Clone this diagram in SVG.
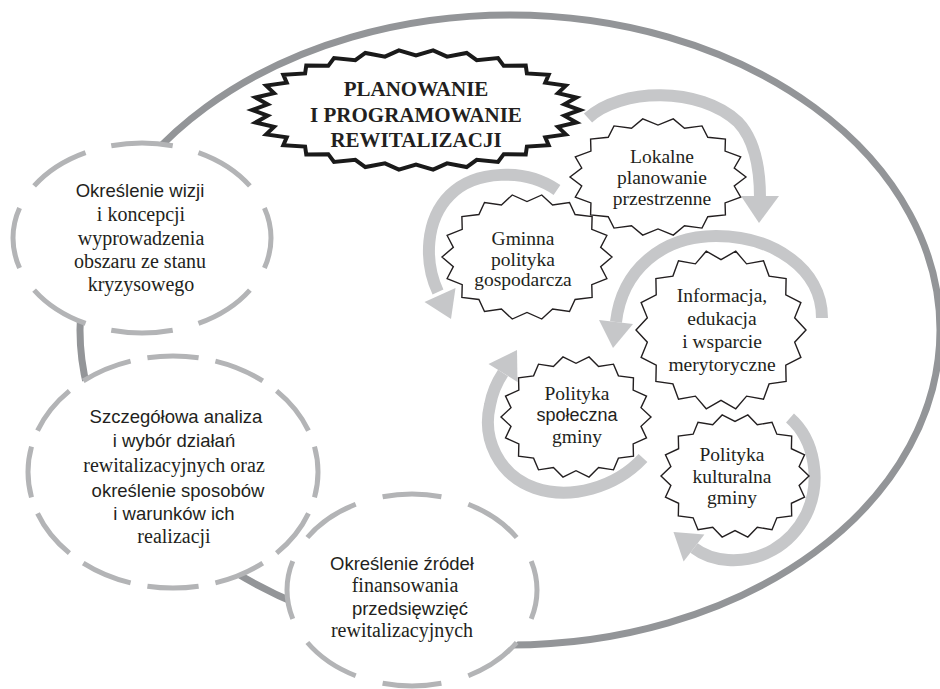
<svg xmlns="http://www.w3.org/2000/svg" xmlns:xlink="http://www.w3.org/1999/xlink" width="940" height="689" viewBox="0 0 940 689">
<style>
.outer{fill:none;stroke:#939598;stroke-width:7}
.dash{fill:#fff;stroke:#b3b4b6;stroke-width:5}
.arc{fill:none;stroke:#c6c7c9;stroke-width:12}
.head{fill:#c6c7c9}
.star{fill:#fff;stroke:#231f20;stroke-width:1.4}
.title{fill:#fff;stroke:#1a1a1a;stroke-width:4}
.serif{font-family:"Liberation Serif","Times New Roman",serif;font-size:20px;fill:#231f20;text-anchor:middle}
.sans{font-family:"Liberation Sans",Arial,sans-serif;font-size:18.5px;fill:#231f20;text-anchor:middle}
.ns{font-family:"Liberation Serif","Times New Roman",serif;font-size:19.5px;fill:#231f20;text-anchor:middle}
.nsans{font-family:"Liberation Sans",Arial,sans-serif;font-size:18px;fill:#231f20;text-anchor:middle}
.tt{font-family:"Liberation Serif","Times New Roman",serif;font-size:21px;font-weight:bold;fill:#231f20;text-anchor:middle}
</style>
<defs>
<polygon id="star18" vector-effect="non-scaling-stroke" points="100,0 86.66,15.28 93.97,34.2 76.21,44 76.6,64.28 56.57,67.41 50,86.6 30.1,82.69 17.36,98.48 0,88 -17.36,98.48 -30.1,82.69 -50,86.6 -56.57,67.41 -76.6,64.28 -76.21,44 -93.97,34.2 -86.66,15.28 -100,0 -86.66,-15.28 -93.97,-34.2 -76.21,-44 -76.6,-64.28 -56.57,-67.41 -50,-86.6 -30.1,-82.69 -17.36,-98.48 0,-88 17.36,-98.48 30.1,-82.69 50,-86.6 56.57,-67.41 76.6,-64.28 76.21,-44 93.97,-34.2 86.66,-15.28"/>
<polygon id="star30" vector-effect="non-scaling-stroke" points="100,0 90.5,9.51 97.81,20.79 86.55,28.12 91.35,40.67 78.81,45.5 80.9,58.78 67.62,60.89 66.91,74.31 53.49,73.62 50,86.6 37.01,83.13 30.9,95.11 18.92,89.01 10.45,99.45 0,91 -10.45,99.45 -18.92,89.01 -30.9,95.11 -37.01,83.13 -50,86.6 -53.49,73.62 -66.91,74.31 -67.62,60.89 -80.9,58.78 -78.81,45.5 -91.35,40.67 -86.55,28.12 -97.81,20.79 -90.5,9.51 -100,0 -90.5,-9.51 -97.81,-20.79 -86.55,-28.12 -91.35,-40.67 -78.81,-45.5 -80.9,-58.78 -67.62,-60.89 -66.91,-74.31 -53.49,-73.62 -50,-86.6 -37.01,-83.13 -30.9,-95.11 -18.92,-89.01 -10.45,-99.45 0,-91 10.45,-99.45 18.92,-89.01 30.9,-95.11 37.01,-83.13 50,-86.6 53.49,-73.62 66.91,-74.31 67.62,-60.89 80.9,-58.78 78.81,-45.5 91.35,-40.67 86.55,-28.12 97.81,-20.79 90.5,-9.51"/>
</defs>

<g id="connectors">
<ellipse class="outer" cx="510" cy="330" rx="430" ry="315"/>
</g>

<g id="circle-wizja">
<ellipse class="dash" cx="142" cy="238" rx="129" ry="95" pathLength="800" stroke-dasharray="70 30" stroke-dashoffset="35"/>
<text class="sans" x="140" y="197">Określenie wizji</text>
<text class="serif" x="141" y="221">i koncepcji</text>
<text class="serif" x="141" y="245">wyprowadzenia</text>
<text class="serif" x="140" y="268">obszaru ze stanu</text>
<text class="serif" x="141" y="291">kryzysowego</text>
</g>

<g id="circle-analiza">
<ellipse class="dash" cx="173" cy="472" rx="145" ry="116" pathLength="1200" stroke-dasharray="75 25" stroke-dashoffset="37.5"/>
<text class="sans" x="176" y="423">Szczegółowa analiza</text>
<text class="sans" x="174" y="447">i wybór działań</text>
<text class="serif" x="174" y="472">rewitalizacyjnych oraz</text>
<text class="sans" x="178" y="497">określenie sposobów</text>
<text class="sans" x="174" y="520">i warunków ich</text>
<text class="serif" x="174" y="543">realizacji</text>
</g>

<g id="circle-finansowanie">
<ellipse class="dash" cx="412" cy="590" rx="125" ry="96" pathLength="800" stroke-dasharray="68 32" stroke-dashoffset="34"/>
<text class="sans" x="402" y="570">Określenie źródeł</text>
<text class="serif" x="405" y="592">finansowania</text>
<text class="sans" x="410" y="615">przedsięwzięć</text>
<text class="serif" x="402" y="637">rewitalizacyjnych</text>
</g>

<g id="title">
<use xlink:href="#star30" class="title" transform="translate(416,110) scale(1.64,0.6)"/>
<text class="tt" x="416" y="96">PLANOWANIE</text>
<text class="tt" x="416" y="122">I PROGRAMOWANIE</text>
<text class="tt" x="416" y="147">REWITALIZACJI</text>
</g>

<g id="cycle-arrows">
<path class="arc" d="M588,118 C620,88 700,86 738,122 C755,140 760,170 760,198"/>
<polygon class="head" points="741,196 779,196 759,223"/>
<path class="arc" d="M557,190 C525,168 475,170 450,195 C425,220 424,262 438,292"/>
<polygon class="head" points="455.5,288 424.5,302 451,319"/>
<path class="arc" d="M822,318 C822,268 772,236 716,236 C662,236 622,270 616,322"/>
<polygon class="head" points="633,324 599,320 613,348"/>
<path class="arc" d="M643,458 C615,488 570,500 535,488 C498,475 482,438 490,405 C492,394 497,382 503,373"/>
<polygon class="head" points="517.5,382 488.5,364 517,350"/>
<path class="arc" d="M790,418 C815,440 822,482 806,515 C790,546 760,562 728,560 C714,559 703,555 694,548"/>
<polygon class="head" points="704.4,534.6 683.6,561.4 673.5,532"/>
</g>

<g id="node-lokalne">
<use xlink:href="#star18" class="star" transform="translate(658,177) scale(0.88,0.59)"/>
<text class="ns" x="662" y="163">Lokalne</text>
<text class="ns" x="662" y="184">planowanie</text>
<text class="ns" x="662" y="205">przestrzenne</text>
</g>

<g id="node-gminna">
<use xlink:href="#star18" class="star" transform="translate(527,257) scale(0.85,0.63)"/>
<text class="ns" x="523" y="245">Gminna</text>
<text class="ns" x="523" y="266">polityka</text>
<text class="ns" x="523" y="286">gospodarcza</text>
</g>

<g id="node-informacja">
<use xlink:href="#star18" class="star" transform="translate(721,330) scale(0.85,0.8)"/>
<text class="ns" x="722" y="302">Informacja,</text>
<text class="ns" x="722" y="325">edukacja</text>
<text class="ns" x="722" y="348">i wsparcie</text>
<text class="ns" x="722" y="371">merytoryczne</text>
</g>

<g id="node-spoleczna">
<use xlink:href="#star18" class="star" transform="translate(576,417) scale(0.75,0.61)"/>
<text class="ns" x="577" y="400">Polityka</text>
<text class="nsans" x="577" y="421">społeczna</text>
<text class="ns" x="577" y="443">gminy</text>
</g>

<g id="node-kulturalna">
<use xlink:href="#star18" class="star" transform="translate(735,476) scale(0.74,0.62)"/>
<text class="ns" x="732" y="461">Polityka</text>
<text class="ns" x="732" y="483">kulturalna</text>
<text class="ns" x="732" y="504">gminy</text>
</g>
</svg>
